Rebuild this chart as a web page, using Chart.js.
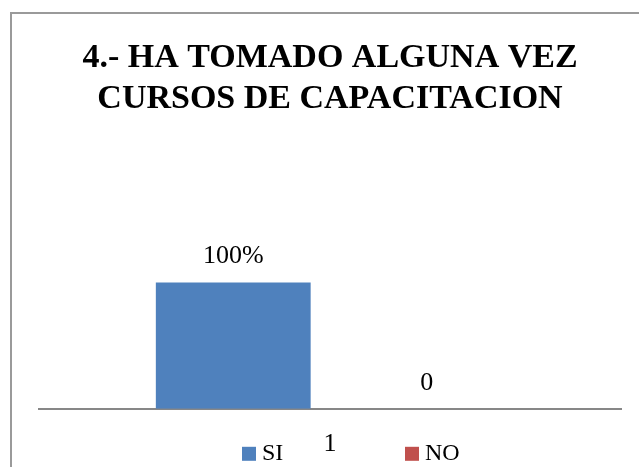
<!DOCTYPE html>
<html>
<head>
<meta charset="utf-8">
<script src="https://cdn.jsdelivr.net/npm/chart.js"></script>
<style>
  body { margin: 0; overflow: hidden; background: #fff; }
  #frame { position: absolute; left: 10px; top: 12px; width: 680px; height: 500px; border: 2px solid #9a9a9a; }
  #chart { position: absolute; left: 12px; top: 14px; }
</style>
</head>
<body>
<div id="frame"></div>
<canvas id="chart" width="627" height="476"></canvas>
<script>
// --------------- data -----------------
const categories = ['1'];
const seriesNames = ['SI', 'NO'];
const siValues = [100];
const noValues = [0];
const valueTexts = [['100%'], ['0']];

const colors = ['#4F81BD', '#C0504D'];
const serif = '"Liberation Serif", "Times New Roman", serif';

// value text above each bar
const barValues = {
    id: 'barValues',
    afterDatasetsDraw(chart) {
        const ctx = chart.ctx;
        ctx.save();
        ctx.font = '26px ' + serif;
        ctx.fillStyle = '#000';
        ctx.textAlign = 'center';
        ctx.textBaseline = 'middle';
        chart.data.datasets.forEach((ds, i) => {
            chart.getDatasetMeta(i).data.forEach((bar, j) => {
                ctx.fillText(valueTexts[i][j], bar.x, bar.y - 26);
            });
        });
        ctx.restore();
    }
};

// legend spread around the category label, like the original
const spreadLegend = {
    id: 'spreadLegend',
    afterDraw(chart) {
        const ctx = chart.ctx;
        const xs = chart.scales.x;
        const mid = (xs.left + xs.right) / 2;
        const y = chart.chartArea.bottom + 45;
        const offsets = [-88, 75];
        ctx.save();
        ctx.font = '24px ' + serif;
        ctx.textBaseline = 'middle';
        chart.data.datasets.forEach((ds, i) => {
            const left = mid + offsets[i];
            ctx.fillStyle = ds.backgroundColor;
            ctx.fillRect(left, y - 7, 14, 14);
            ctx.fillStyle = '#000';
            ctx.fillText(ds.label, left + 20, y);
        });
        ctx.restore();
    }
};

const ctx = document.getElementById('chart');

new Chart(ctx, {
    type: 'bar',
    data: {
        labels: categories,
        datasets: [{
            label: seriesNames[0],
            data: siValues,
            backgroundColor: colors[0]
        }, {
            label: seriesNames[1],
            data: noValues,
            backgroundColor: colors[1]
        }]
    },
    options: {
        responsive: false,
        animation: false,
        categoryPercentage: 0.665,
        barPercentage: 0.8,
        layout: { padding: { left: 27, right: 18, top: 0, bottom: 10 } },
        plugins: {
            legend: { display: false },
            tooltip: { enabled: false },
            title: {
                display: true,
                text: ['4.- HA TOMADO ALGUNA VEZ', 'CURSOS DE CAPACITACION'],
                color: '#000',
                font: { family: serif, size: 34, weight: 'bold', lineHeight: 1.22 },
                padding: { top: 23, bottom: 20 }
            }
        },
        scales: {
            x: {
                grid: { display: false, drawTicks: false },
                border: { display: true, color: '#878787', width: 2 },
                ticks: {
                    color: '#000',
                    padding: 20,
                    font: { family: serif, size: 26, lineHeight: 1.2 }
                }
            },
            y: {
                display: false,
                min: 0,
                max: 213
            }
        }
    },
    plugins: [barValues, spreadLegend]
});
</script>
</body>
</html>
